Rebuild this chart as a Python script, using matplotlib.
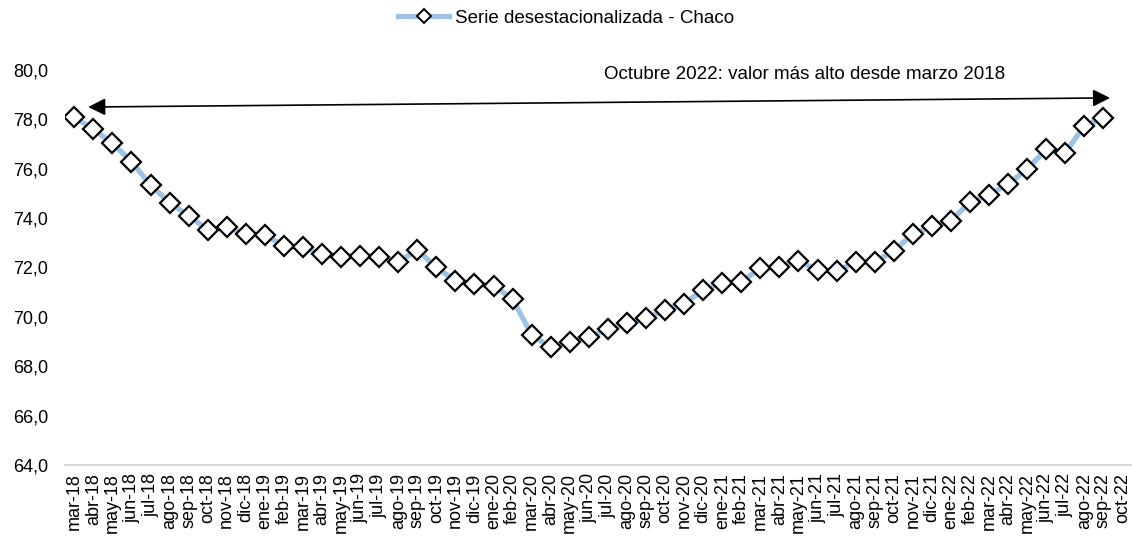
import numpy as np
import matplotlib
matplotlib.use("Agg")
import matplotlib.pyplot as plt
from matplotlib.lines import Line2D

plt.rcParams['font.family'] = ['Liberation Sans', 'DejaVu Sans']

# monthly categories on the x axis
months = ['mar-18', 'abr-18', 'may-18', 'jun-18', 'jul-18', 'ago-18', 'sep-18', 'oct-18', 'nov-18', 'dic-18',
          'ene-19', 'feb-19', 'mar-19', 'abr-19', 'may-19', 'jun-19', 'jul-19', 'ago-19', 'sep-19', 'oct-19',
          'nov-19', 'dic-19', 'ene-20', 'feb-20', 'mar-20', 'abr-20', 'may-20', 'jun-20', 'jul-20', 'ago-20',
          'sep-20', 'oct-20', 'nov-20', 'dic-20', 'ene-21', 'feb-21', 'mar-21', 'abr-21', 'may-21', 'jun-21',
          'jul-21', 'ago-21', 'sep-21', 'oct-21', 'nov-21', 'dic-21', 'ene-22', 'feb-22', 'mar-22', 'abr-22',
          'may-22', 'jun-22', 'jul-22', 'ago-22', 'sep-22', 'oct-22']

# seasonally adjusted series
serie = [78.08, 77.60, 77.03, 76.29, 75.34, 74.63, 74.10, 73.52, 73.63, 73.36,
         73.32, 72.87, 72.82, 72.54, 72.44, 72.47, 72.44, 72.23, 72.71, 72.00,
         71.47, 71.32, 71.26, 70.72, 69.27, 68.76, 69.00, 69.18, 69.50, 69.74,
         69.95, 70.28, 70.53, 71.09, 71.36, 71.43, 71.96, 72.04, 72.27, 71.89,
         71.86, 72.21, 72.23, 72.67, 73.36, 73.68, 73.90, 74.64, 74.94, 75.38,
         75.99, 76.79, 76.65, 77.74, 78.04]

yticks = [64, 66, 68, 70, 72, 74, 76, 78, 80]
ytick_labels = ['64,0', '66,0', '68,0', '70,0', '72,0', '74,0', '76,0', '78,0', '80,0']

nota = 'Octubre 2022: valor más alto desde marzo 2018'
leyenda = 'Serie desestacionalizada - Chaco'

line_color = '#9dc3e6'

fig = plt.figure(figsize=(11.32, 5.38), dpi=100)
ax = fig.add_axes([0.0572, 0.1357, 0.9428, 0.7342])

x = np.arange(len(serie))
ax.plot(x, serie, color=line_color, lw=3.8, marker='D', ms=9.8,
        mfc='white', mec='black', mew=1.6, zorder=3)

ax.set_xlim(-0.5, len(months) - 0.5)
ax.set_ylim(64, 80)
ax.set_xticks(np.arange(len(months)))
ax.set_xticklabels(months, rotation=90, fontsize=13)
ax.set_yticks(yticks)
ax.set_yticklabels(ytick_labels, fontsize=13)
ax.tick_params(axis='both', length=0)
ax.tick_params(axis='y', pad=12)
ax.tick_params(axis='x', pad=6)

for s in ['top', 'right', 'left']:
    ax.spines[s].set_visible(False)
ax.spines['bottom'].set_color('#d9d9d9')
ax.spines['bottom'].set_linewidth(1.5)

# double arrow across the whole period
ax.annotate('', xy=(54.35, 78.87), xytext=(0.73, 78.5),
            arrowprops=dict(arrowstyle='<|-|>', color='black', lw=1.2,
                            mutation_scale=26, shrinkA=0, shrinkB=0))
ax.text(38.3, 79.8, nota, ha='center', va='center', fontsize=13.5)

handle = Line2D([], [], color=line_color, lw=3.8, marker='D', ms=7,
                mfc='white', mec='black', mew=1.4)
fig.legend([handle], [leyenda], loc='center', bbox_to_anchor=(0.5, 0.966),
           frameon=False, fontsize=13.5, handlelength=2.7, handletextpad=0.3)

fig.savefig('out.png', dpi=100)
